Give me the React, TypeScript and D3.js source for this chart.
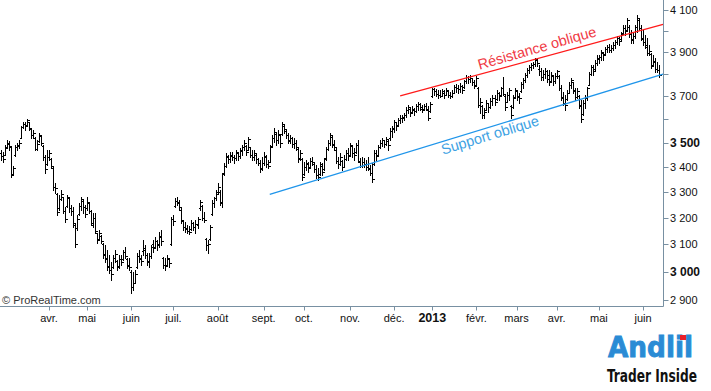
import * as d3 from "d3";

const W = 711;
const H = 391;

// CAC 40 daily bars, [open, high, low, close], one array per month
const feb2012 = [[3455,3469,3428,3445],[3445,3462,3420,3430]];
const mar2012 = [
  [3450,3489,3448,3478],[3480,3510,3477,3500],[3495,3506,3469,3485],[3480,3481,3359,3365],
  [3370,3403,3367,3395],[3450,3489,3444,3480],[3480,3497,3469,3490],[3485,3510,3477,3500],
  [3520,3570,3518,3565],[3565,3587,3561,3578],[3578,3587,3552,3570],[3572,3600,3570,3595],
  [3585,3587,3552,3560],[3555,3561,3518,3530],[3530,3552,3518,3540],[3520,3522,3469,3475],
  [3475,3510,3469,3495],[3505,3539,3501,3530],[3528,3531,3489,3500],[3485,3489,3428,3440],
  [3440,3448,3375,3390],[3410,3469,3407,3440]];
const apr2012 = [
  [3440,3469,3428,3455],[3430,3436,3395,3405],[3395,3399,3307,3320],[3320,3335,3295,3315],
  [3290,3295,3210,3220],[3235,3287,3229,3270],[3270,3307,3268,3290],[3278,3280,3218,3225],
  [3225,3241,3183,3195],[3245,3287,3241,3280],[3275,3280,3222,3235],[3235,3248,3210,3225],
  [3225,3241,3165,3180],[3170,3180,3090,3100],[3160,3210,3153,3195],[3215,3256,3210,3245],
  [3245,3280,3229,3270],[3265,3268,3218,3240],[3240,3248,3202,3215]];
const may2012 = [
  [3235,3280,3229,3260],[3255,3256,3218,3225],[3225,3229,3172,3180],[3170,3218,3165,3200],
  [3200,3218,3142,3150],[3140,3142,3104,3115],[3120,3153,3115,3140],[3130,3134,3104,3112],
  [3100,3104,3049,3060],[3065,3097,3035,3045],[3050,3078,3006,3015],[3020,3060,2995,3005],
  [3005,3035,2970,2990],[3015,3060,3013,3050],[3050,3078,3035,3065],[3040,3042,3006,3015],
  [3020,3060,3013,3045],[3045,3060,3024,3035],[3045,3078,3042,3070],[3070,3089,3049,3055],
  [3045,3049,3013,3020],[3025,3049,3006,3015]];
const jun2012 = [
  [3000,3006,2924,2945],[2945,2999,2935,2960],[2960,3006,2959,2990],[3015,3067,3013,3055],
  [3055,3078,3035,3050],[3045,3060,3024,3040],[3075,3115,3060,3085],[3080,3097,3049,3060],
  [3060,3067,3024,3040],[3035,3067,3017,3055],[3055,3097,3049,3090],[3100,3115,3071,3085],
  [3090,3127,3086,3110],[3110,3115,3078,3095],[3100,3145,3090,3130],[3125,3153,3097,3110],
  [3050,3053,3013,3025],[3025,3049,3006,3020],[3025,3060,3024,3050],[3045,3049,3017,3030],
  [3100,3202,3097,3195]];
const jul2012 = [
  [3195,3210,3172,3185],[3245,3276,3241,3265],[3265,3280,3248,3260],[3255,3268,3229,3240],
  [3230,3237,3180,3190],[3185,3191,3153,3165],[3165,3183,3145,3155],[3160,3172,3142,3150],
  [3150,3168,3138,3145],[3158,3191,3153,3180],[3178,3183,3153,3165],[3165,3191,3142,3175],
  [3170,3202,3161,3195],[3235,3268,3229,3260],[3245,3248,3191,3200],[3200,3222,3183,3190],
  [3120,3123,3078,3095],[3095,3115,3067,3100],[3120,3172,3115,3165],[3215,3268,3210,3255],
  [3255,3280,3241,3275],[3275,3307,3268,3290]];
const aug2012 = [
  [3300,3335,3295,3320],[3300,3307,3248,3260],[3255,3375,3241,3370],[3375,3416,3367,3405],
  [3405,3456,3399,3445],[3440,3448,3416,3430],[3430,3460,3420,3450],[3445,3460,3428,3440],
  [3440,3448,3416,3435],[3435,3469,3428,3460],[3455,3460,3428,3445],[3445,3477,3436,3470],
  [3465,3489,3448,3480],[3480,3510,3469,3500],[3485,3489,3448,3460],[3470,3522,3469,3515],
  [3480,3481,3440,3450],[3450,3469,3428,3440],[3440,3469,3428,3455],[3450,3456,3416,3430],
  [3430,3436,3407,3415],[3415,3428,3379,3390],[3395,3440,3387,3415]];
const sep2012 = [
  [3415,3460,3407,3445],[3440,3448,3399,3410],[3410,3428,3395,3405],[3420,3489,3420,3480],
  [3485,3531,3481,3520],[3520,3561,3501,3545],[3535,3539,3489,3510],[3510,3552,3497,3535],
  [3530,3531,3481,3500],[3535,3587,3531,3580],[3570,3574,3539,3555],[3550,3552,3518,3530],
  [3530,3539,3497,3510],[3505,3531,3497,3520],[3518,3522,3481,3495],[3495,3518,3477,3500],
  [3500,3510,3469,3480],[3475,3477,3420,3430],[3435,3469,3428,3455],[3430,3436,3347,3360]];
const oct2012 = [
  [3370,3420,3367,3400],[3400,3428,3387,3415],[3412,3420,3379,3395],[3400,3436,3395,3425],
  [3425,3440,3407,3420],[3410,3416,3379,3390],[3390,3407,3355,3365],[3365,3395,3347,3360],
  [3370,3420,3367,3410],[3405,3416,3367,3380],[3390,3436,3387,3430],[3435,3481,3428,3475],
  [3475,3510,3469,3500],[3500,3539,3489,3530],[3525,3527,3481,3495],[3490,3510,3469,3480],
  [3470,3477,3416,3425],[3425,3440,3395,3410],[3410,3456,3407,3440],[3425,3428,3387,3400],
  [3400,3448,3399,3430],[3430,3469,3428,3455],[3455,3477,3428,3445]];
const nov2012 = [
  [3450,3497,3448,3490],[3485,3489,3440,3455],[3455,3477,3428,3450],[3460,3497,3456,3490],
  [3490,3510,3420,3425],[3420,3436,3399,3405],[3405,3440,3399,3420],[3420,3436,3399,3410],
  [3410,3428,3387,3400],[3400,3440,3387,3395],[3390,3407,3367,3375],[3375,3416,3339,3350],
  [3410,3469,3407,3455],[3455,3469,3428,3445],[3450,3489,3448,3480],[3480,3510,3477,3500],
  [3500,3518,3485,3510],[3510,3510,3481,3495],[3495,3522,3489,3515],[3505,3510,3469,3490],
  [3520,3561,3510,3550],[3550,3570,3522,3555]];
const dec2012 = [
  [3560,3595,3544,3585],[3585,3587,3552,3570],[3572,3604,3570,3595],[3595,3617,3583,3605],
  [3605,3617,3587,3610],[3605,3625,3595,3615],[3615,3651,3608,3640],[3640,3660,3625,3650],
  [3645,3647,3613,3625],[3630,3656,3625,3645],[3640,3647,3617,3635],[3635,3664,3630,3655],
  [3655,3673,3638,3665],[3665,3669,3638,3650],[3645,3660,3630,3640],[3645,3664,3643,3655],
  [3655,3669,3638,3645],[3640,3656,3595,3605],[3635,3673,3630,3665]];
const jan2013 = [
  [3700,3735,3695,3730],[3730,3735,3704,3720],[3720,3731,3700,3710],[3710,3726,3691,3705],
  [3705,3726,3695,3700],[3700,3731,3700,3720],[3715,3726,3691,3705],[3705,3735,3704,3725],
  [3720,3726,3695,3705],[3705,3717,3691,3700],[3700,3726,3695,3715],[3715,3749,3713,3740],
  [3740,3753,3717,3735],[3735,3749,3713,3730],[3730,3758,3717,3745],[3745,3749,3713,3725],
  [3740,3771,3735,3765],[3765,3794,3758,3785],[3785,3789,3758,3775],[3775,3794,3762,3790],
  [3778,3780,3749,3760],[3760,3771,3735,3745]];
const feb2013 = [
  [3750,3789,3749,3780],[3735,3740,3651,3660],[3660,3691,3625,3675],[3655,3660,3604,3615],
  [3615,3647,3604,3630],[3640,3682,3638,3670],[3668,3669,3630,3650],[3650,3691,3647,3680],
  [3680,3704,3660,3690],[3690,3704,3660,3675],[3685,3726,3682,3715],[3715,3717,3682,3700],
  [3705,3740,3704,3735],[3735,3785,3704,3710],[3700,3704,3638,3650],[3675,3717,3673,3705],
  [3705,3735,3682,3725],[3655,3660,3604,3615],[3650,3704,3647,3690],[3695,3735,3691,3725]];
const mar2013 = [
  [3720,3726,3682,3700],[3695,3713,3669,3690],[3720,3762,3717,3755],[3755,3780,3735,3770],
  [3770,3803,3762,3795],[3795,3825,3785,3815],[3815,3839,3803,3830],[3830,3848,3816,3840],
  [3840,3853,3825,3845],[3845,3871,3834,3865],[3862,3871,3834,3850],[3820,3839,3794,3810],
  [3810,3825,3771,3785],[3785,3816,3771,3800],[3800,3825,3780,3810],[3810,3816,3762,3775],
  [3795,3816,3749,3760],[3765,3807,3762,3795],[3790,3794,3749,3765],[3765,3803,3758,3790]];
const apr2013 = [
  [3790,3816,3780,3810],[3790,3794,3726,3735],[3735,3749,3682,3695],[3690,3717,3660,3670],
  [3665,3704,3638,3660],[3685,3726,3682,3715],[3715,3762,3713,3750],[3750,3780,3735,3770],
  [3760,3762,3713,3725],[3720,3735,3682,3695],[3695,3735,3691,3720],[3700,3704,3647,3660],
  [3655,3682,3587,3600],[3620,3682,3617,3670],[3670,3704,3647,3690],[3690,3740,3682,3735],
  [3750,3807,3749,3800],[3800,3839,3794,3830],[3830,3839,3794,3810],[3820,3862,3816,3850],
  [3850,3885,3839,3870]];
const may2013 = [
  [3865,3885,3848,3875],[3875,3908,3862,3900],[3895,3899,3862,3885],[3890,3922,3885,3915],
  [3915,3932,3899,3925],[3925,3937,3899,3910],[3910,3932,3899,3920],[3920,3946,3908,3930],
  [3930,3956,3918,3945],[3945,3975,3937,3965],[3965,3970,3932,3950],[3960,3994,3956,3985],
  [3990,4027,3989,4015],[4015,4027,3979,4000],[4005,4061,4003,4050],[4020,4027,3970,3985],
  [3985,4003,3942,3960],[3955,3994,3942,3975],[3975,4027,3965,4020],[4020,4075,3994,4060],
  [4050,4061,4003,4015],[4015,4027,3956,3965]];
const jun2013 = [
  [3960,4003,3932,3945],[3945,3979,3918,3930],[3925,3965,3885,3895],[3895,3932,3885,3905],
  [3890,3894,3825,3835],[3840,3885,3839,3860],[3855,3871,3807,3820],[3820,3853,3807,3815],
  [3815,3839,3785,3795]];

const months = [feb2012, mar2012, apr2012, may2012, jun2012, jul2012, aug2012, sep2012,
  oct2012, nov2012, dec2012, jan2013, feb2013, mar2013, apr2013, may2013, jun2013];
const monthLabels = [null, null, "avr.", "mai", "juin", "juil.", "août", "sept.", "oct.",
  "nov.", "déc.", "2013", "févr.", "mars", "avr.", "mai", "juin"];

const priceTicks = [2900, 3000, 3100, 3200, 3300, 3400, 3500, 3600, 3700, 3800, 3900, 4000, 4100];
const unlabelled = [3600, 3800, 4000];
const boldTicks = [3000, 3500];

// trend lines: [bar index, price]
const resistance = [[199, 3700], [330, 4030]];
const support = [[134, 3290], [330, 3798]];

const fmt = d3.formatLocale({ decimal: ",", thousands: " ", grouping: [3], currency: ["", "€"] }).format(",d");

export default function App() {
  const bars = months.flat();
  const monthStart: number[] = [];
  let n = 0;
  months.forEach((m) => { monthStart.push(n); n += m.length; });

  // bar index 24 = 2 avr. 2012, 320 = 3 juin 2013
  const x = d3.scaleLinear().domain([24, 320]).range([49, 643]);
  const y = d3.scaleLog().domain([2900, 4100]).range([300, 10]);
  const axisX = 663.5;
  const axisY = 306.5;
  const px = (v: number) => Math.round(v) + 0.5;

  const barPath = bars.map(([o, h, l, c], i) => {
    const xc = px(x(i));
    return `M${xc},${Math.round(y(h))}V${Math.round(y(l)) + 1}` +
      `M${xc - 2},${px(y(o))}H${xc}M${xc},${px(y(c))}H${xc + 2}`;
  }).join("");

  const trend = (pts: number[][]) => pts.map(([i, v]) => [x(i), y(v)]);
  const r = trend(resistance);
  const s = trend(support);

  return (
    <svg width={W} height={H} style={{ position: "absolute", left: 0, top: 0, background: "#fff" }}
      fontFamily="Arial, 'Liberation Sans', sans-serif">
      <rect width={W} height={H} fill="#fff" />
      <text x={2} y={304} fontSize={11} fill="#333">© ProRealTime.com</text>

      <path d={barPath} stroke="#000" strokeWidth={1} fill="none" shapeRendering="crispEdges" />

      <line x1={r[0][0]} y1={r[0][1]} x2={r[1][0]} y2={r[1][1]} stroke="#ff1a1a" strokeWidth={1.3} />
      <line x1={s[0][0]} y1={s[0][1]} x2={s[1][0]} y2={s[1][1]} stroke="#1f95ea" strokeWidth={1.3} />
      <text transform="translate(537,48) rotate(-16)" textAnchor="middle" dominantBaseline="central"
        fontSize={14.5} fill="#f03a45">Résistance oblique</text>
      <text transform="translate(490,135) rotate(-17)" textAnchor="middle" dominantBaseline="central"
        fontSize={14.5} fill="#3ea2e3">Support oblique</text>

      {/* right price axis */}
      <line x1={axisX} y1={0} x2={axisX} y2={axisY} stroke="#7890a2" />
      {priceTicks.map((v) => (
        <g key={v}>
          <line x1={axisX} x2={axisX + 5} y1={px(y(v))} y2={px(y(v))} stroke="#7890a2" />
          {!unlabelled.includes(v) && (
            <text x={670} y={y(v)} dominantBaseline="central"
              fontSize={boldTicks.includes(v) ? 12 : 11}
              fontWeight={boldTicks.includes(v) ? "bold" : "normal"} fill="#111">{fmt(v)}</text>
          )}
        </g>
      ))}

      {/* time axis */}
      <line x1={0} y1={axisY} x2={axisX} y2={axisY} stroke="#7890a2" />
      {monthLabels.map((lab, k) => lab && (
        <g key={k}>
          <line x1={px(x(monthStart[k]))} x2={px(x(monthStart[k]))} y1={axisY} y2={axisY + 4} stroke="#7890a2" />
          <text x={x(monthStart[k])} y={322} textAnchor="middle"
            fontSize={lab === "2013" ? 12.5 : 11} fontWeight={lab === "2013" ? "bold" : "normal"}
            fill="#111">{lab}</text>
        </g>
      ))}

      {/* logo */}
      <text x={608} y={357} fontSize={29} fontWeight="bold" fill="#2a8bd5" stroke="#2a8bd5" strokeWidth={0.8}
        textLength={85} lengthAdjust="spacingAndGlyphs"
        fontFamily="'DejaVu Sans Condensed', 'DejaVu Sans', sans-serif">Andlil</text>
      <rect x={680} y={335} width={6} height={5} fill="#e8202a" />
      <text x={607} y={382} fontSize={18} fontWeight="bold" fill="#111" textLength={90}
        lengthAdjust="spacingAndGlyphs"
        fontFamily="'DejaVu Sans Condensed', 'DejaVu Sans', sans-serif">Trader Inside</text>
    </svg>
  );
}
